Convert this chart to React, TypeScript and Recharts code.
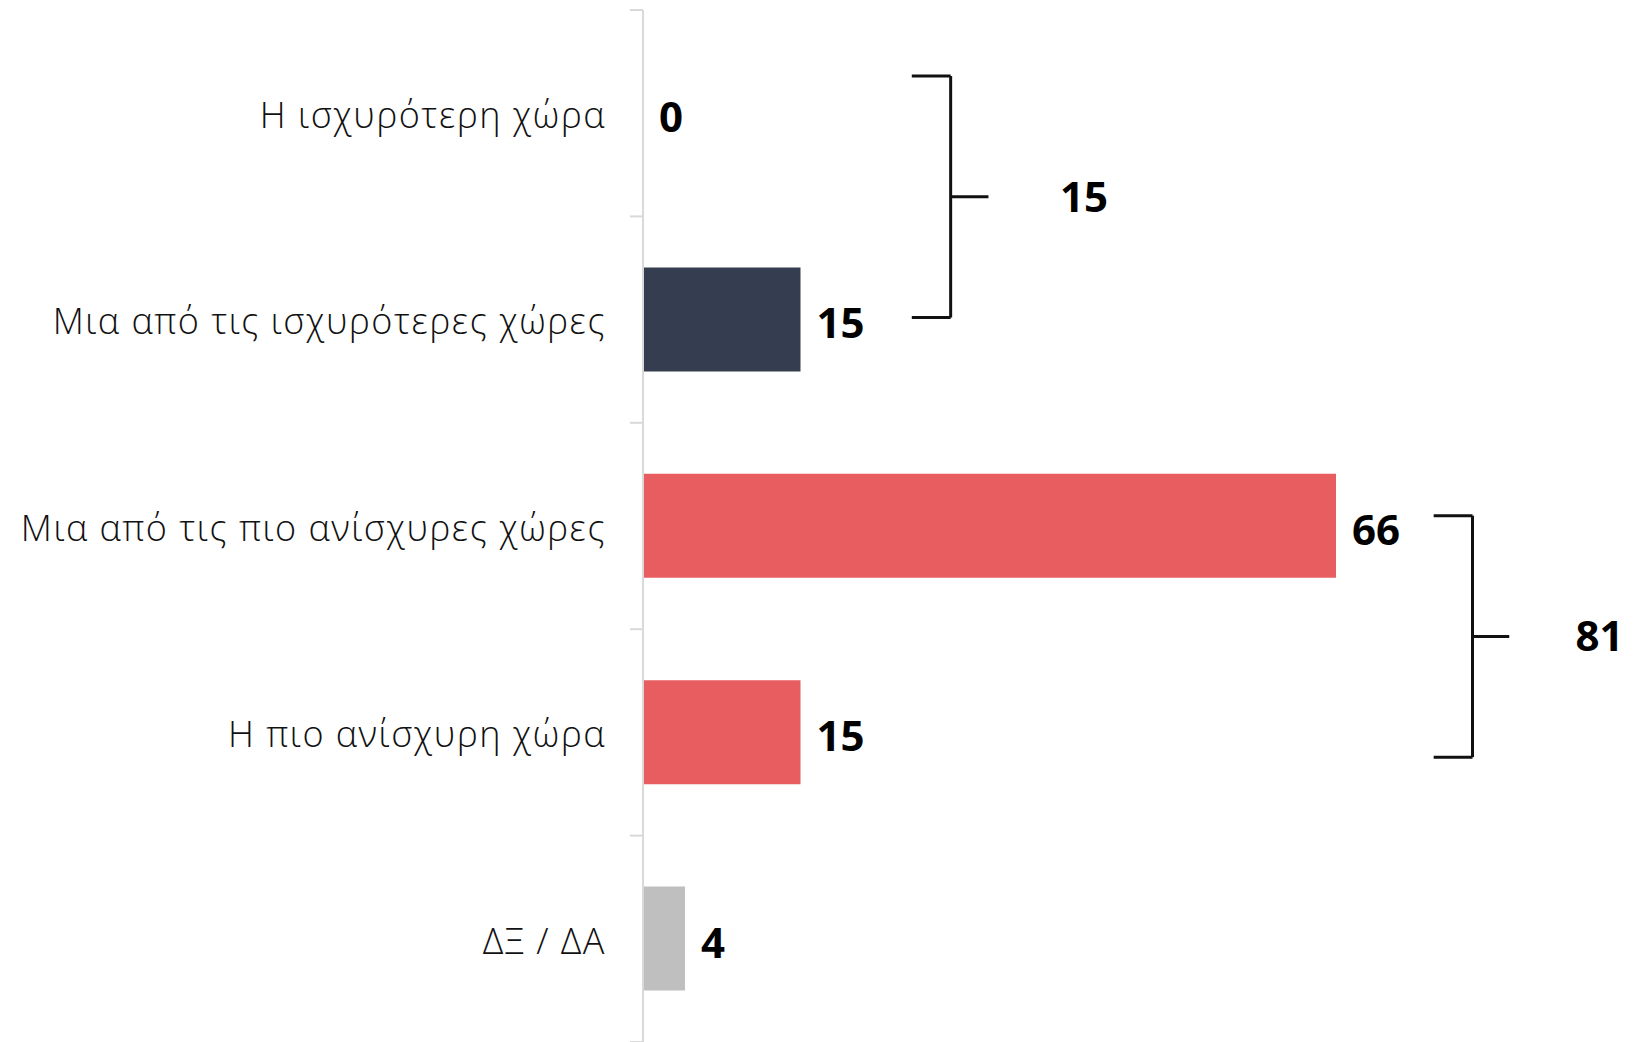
import React from "react";
import {
  BarChart, Bar, XAxis, YAxis, Cell, LabelList, ReferenceLine, ReferenceDot,
} from "recharts";

// categories, top to bottom
const CATEGORIES = [
  "Η ισχυρότερη χώρα",
  "Μια από τις ισχυρότερες χώρες",
  "Μια από τις πιο ανίσχυρες χώρες",
  "Η πιο ανίσχυρη χώρα",
  "ΔΞ / ΔΑ",
];
const VALUES = [0, 15, 66, 15, 4];
const COLORS = ["#343e50", "#343e50", "#e85d60", "#e85d60", "#bfbfbf"];

// grouped totals shown next to the brackets
const GROUP_TOTALS = [15, 81];
// bracket spans in row units (0 = top of first row) and value units
const GROUP_Y = [[0.32, 1.49], [2.45, 3.62]];
const GROUP_X = [[25.6, 29.3, 32.9, 42], [75.3, 79.0, 82.5, 91.1]];
const ROW_EDGES = [0, 1, 2, 3, 4, 5];

const data = CATEGORIES.map((name, i) => ({ name, value: VALUES[i] }));

// helper axis "n" spans 0..(rows-1) over the plot height
const ROWS = CATEGORIES.length;
const toN = (rowUnits: number) => (rowUnits * (ROWS - 1)) / ROWS;

const AXIS_GREY = "#d9d9d9";
const INK = "#111111";
const LABEL_FONT = "'Open Sans', 'Noto Sans', sans-serif";
const VALUE_FONT = "'Open Sans', 'DejaVu Sans', sans-serif";
const valueStyle = { fontSize: 42, fontWeight: 700, fill: "#000", fontFamily: VALUE_FONT };

export default function App() {
  return (
    <div style={{ position: "absolute", left: 0, top: 0, width: 1634, height: 1042, background: "#fff" }}>
      <BarChart
        layout="vertical"
        width={1634}
        height={1042}
        data={data}
        margin={{ top: 10, right: 4, bottom: 0, left: 0 }}
      >
        <XAxis type="number" domain={[0, 94]} hide allowDataOverflow />
        <YAxis
          dataKey="name"
          type="category"
          width={643}
          axisLine={{ stroke: AXIS_GREY, strokeWidth: 2 }}
          tickLine={false}
          tickSize={0}
          tickMargin={37}
          tick={{ fontSize: 36, fill: INK, fontFamily: LABEL_FONT, fontWeight: 300, letterSpacing: 1.5, dy: 2 }}
        />
        <YAxis yAxisId="n" type="number" domain={[0, ROWS - 1]} hide allowDataOverflow />

        {/* tick marks on the row boundaries */}
        {ROW_EDGES.map((r) => (
          <ReferenceLine
            key={`t${r}`}
            yAxisId="n"
            segment={[{ x: -1.24, y: toN(r) }, { x: 0, y: toN(r) }]}
            stroke={AXIS_GREY}
            strokeWidth={2}
            ifOverflow="visible"
          />
        ))}

        <Bar dataKey="value" barSize={104} minPointSize={0.01} isAnimationActive={false}>
          {data.map((d, i) => (
            <Cell key={d.name} fill={COLORS[i]} />
          ))}
          <LabelList dataKey="value" position="right" offset={16} dy={4} style={valueStyle} />
        </Bar>

        {/* brackets with group totals */}
        {GROUP_TOTALS.map((total, g) => {
          const y0 = toN(GROUP_Y[g][0]);
          const y1 = toN(GROUP_Y[g][1]);
          const [xa, xb, xc, xl] = GROUP_X[g];
          const ym = (y0 + y1) / 2;
          const common = { yAxisId: "n", stroke: INK, strokeWidth: 3, ifOverflow: "visible" as const };
          return (
            <React.Fragment key={`g${g}`}>
              <ReferenceLine {...common} segment={[{ x: xa, y: y0 }, { x: xb, y: y0 }]} />
              <ReferenceLine {...common} segment={[{ x: xb, y: y0 }, { x: xb, y: y1 }]} />
              <ReferenceLine {...common} segment={[{ x: xa, y: y1 }, { x: xb, y: y1 }]} />
              <ReferenceLine {...common} segment={[{ x: xb, y: ym }, { x: xc, y: ym }]} />
              <ReferenceDot
                yAxisId="n"
                x={xl}
                y={ym}
                r={0}
                fill="none"
                stroke="none"
                ifOverflow="visible"
                label={{ value: total, position: "center", style: valueStyle }}
              />
            </React.Fragment>
          );
        })}
      </BarChart>
    </div>
  );
}
